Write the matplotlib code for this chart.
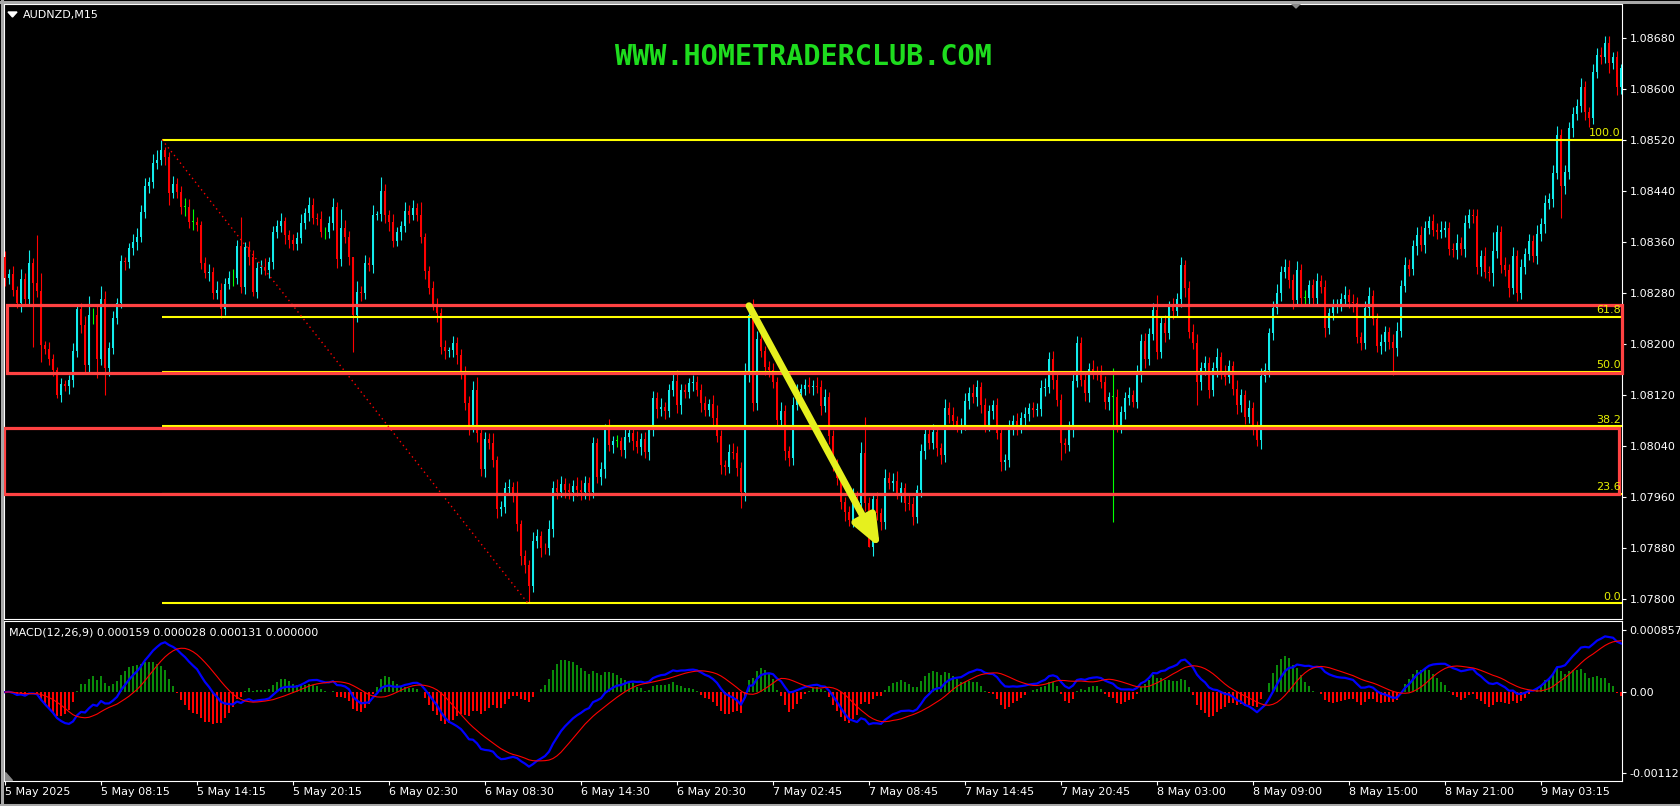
import matplotlib
matplotlib.use('Agg')
import matplotlib.pyplot as plt
from matplotlib.patches import Rectangle, Polygon
import numpy as np
import pandas as pd

W, H = 1680, 806

symbol = 'AUDNZD,M15'
watermark = 'WWW.HOMETRADERCLUB.COM'

# close of every M15 bar, in points above 1.00000 (8245 -> 1.08245)
close_pts = [
    8303, 8310, 8285, 8264, 8302, 8271, 8327, 8296, 8283, 8199, 8192, 8177, 8159, 8120, 8137, 8134, 8143, 8189, 8255, 8230,
    8167, 8245, 8245, 8177, 8271, 8162, 8194, 8241, 8264, 8330, 8328, 8350, 8360, 8368, 8407, 8448, 8454, 8484, 8488, 8504,
    8493, 8437, 8451, 8438, 8415, 8415, 8391, 8391, 8386, 8327, 8311, 8313, 8280, 8285, 8255, 8294, 8303, 8303, 8353, 8289,
    8352, 8336, 8281, 8319, 8320, 8316, 8328, 8375, 8385, 8393, 8371, 8363, 8357, 8366, 8390, 8405, 8418, 8397, 8396, 8375,
    8375, 8390, 8415, 8333, 8382, 8368, 8336, 8245, 8281, 8280, 8327, 8324, 8402, 8403, 8440, 8402, 8391, 8362, 8375, 8385,
    8408, 8402, 8413, 8402, 8368, 8314, 8288, 8263, 8249, 8195, 8189, 8190, 8202, 8183, 8158, 8107, 8072, 8128, 8061, 8004,
    8051, 8045, 8018, 7942, 7945, 7975, 7976, 7965, 7918, 7868, 7854, 7821, 7892, 7899, 7881, 7880, 7910, 7975, 7968, 7981,
    7971, 7968, 7978, 7971, 7968, 7982, 7968, 8045, 7992, 8004, 8065, 8042, 8048, 8048, 8034, 8055, 8061, 8048, 8039, 8051,
    8031, 8065, 8116, 8098, 8101, 8095, 8128, 8142, 8104, 8128, 8125, 8139, 8140, 8128, 8107, 8097, 8106, 8084, 8056, 8010,
    8007, 8031, 8030, 8006, 7968, 8151, 8245, 8107, 8208, 8189, 8164, 8159, 8140, 8081, 8095, 8032, 8021, 8105, 8123, 8130,
    8136, 8133, 8135, 8133, 8103, 8117, 8056, 8010, 7990, 7953, 7937, 7925, 7960, 7951, 8029, 7951, 7882, 7957, 7935, 7921,
    7990, 7982, 7986, 7967, 7975, 7951, 7950, 7929, 7971, 8032, 8059, 8045, 8063, 8037, 8026, 8100, 8089, 8080, 8073, 8074,
    8111, 8124, 8117, 8133, 8104, 8073, 8095, 8104, 8061, 8015, 8018, 8067, 8080, 8070, 8084, 8090, 8100, 8097, 8098, 8131,
    8133, 8177, 8144, 8112, 8045, 8042, 8067, 8142, 8202, 8144, 8123, 8161, 8156, 8155, 8140, 8109, 8117, 8117, 8072, 8093,
    8116, 8120, 8110, 8153, 8205, 8177, 8216, 8253, 8188, 8233, 8217, 8258, 8252, 8270, 8324, 8288, 8219, 8202, 8140, 8162,
    8170, 8128, 8162, 8180, 8155, 8148, 8165, 8130, 8105, 8120, 8085, 8100, 8070, 8050, 8150, 8160, 8217, 8256, 8280, 8313,
    8321, 8300, 8269, 8316, 8272, 8272, 8292, 8272, 8299, 8290, 8225, 8249, 8258, 8261, 8271, 8277, 8266, 8264, 8211, 8202,
    8256, 8275, 8239, 8197, 8203, 8219, 8203, 8194, 8221, 8291, 8324, 8318, 8353, 8371, 8355, 8382, 8392, 8379, 8376, 8379,
    8381, 8349, 8347, 8358, 8349, 8390, 8402, 8400, 8321, 8338, 8313, 8311, 8345, 8375, 8324, 8316, 8288, 8338, 8280, 8321,
    8341, 8361, 8338, 8372, 8388, 8421, 8427, 8468, 8527, 8447, 8469, 8538, 8560, 8573, 8602, 8563, 8554, 8626, 8653, 8650,
    8672, 8640, 8650, 8602, 8632,
]
first_open_pts = 8336

# wick length above / below the body, in points
upper_wick = [
    10, 8, 12, 6, 15, 9, 20, 7, 75, 28, 6, 12, 8, 5, 10, 7, 9, 12, 8, 10,
    14, 30, 12, 15, 20, 12, 9, 11, 8, 10, 6, 9, 12, 14, 10, 12, 8, 14, 16, 16,
    5, 8, 12, 9, 10, 14, 12, 20, 8, 6, 10, 12, 8, 14, 10, 9, 12, 15, 10, 46,
    8, 10, 12, 9, 11, 14, 8, 10, 9, 12, 6, 8, 10, 9, 14, 8, 12, 10, 8, 12,
    9, 10, 14, 8, 30, 12, 9, 0, 18, 10, 12, 9, 15, 6, 22, 10, 8, 12, 9, 8,
    14, 10, 12, 8, 20, 6, 8, 10, 9, 8, 12, 6, 10, 9, 10, 8, 12, 14, 20, 8,
    12, 10, 15, 6, 10, 9, 12, 8, 20, 6, 10, 8, 14, 12, 9, 8, 15, 10, 14, 12,
    10, 12, 9, 14, 16, 12, 10, 9, 8, 12, 10, 18, 8, 10, 6, 14, 9, 12, 16, 10,
    12, 8, 10, 9, 14, 8, 10, 12, 18, 9, 10, 8, 12, 10, 9, 12, 8, 14, 20, 10,
    8, 12, 14, 10, 9, 20, 15, 25, 12, 10, 8, 9, 12, 8, 14, 10, 9, 12, 14, 8,
    10, 12, 9, 14, 10, 12, 8, 9, 10, 12, 8, 9, 14, 10, 18, 57, 10, 8, 12, 9,
    14, 10, 12, 16, 9, 8, 12, 10, 9, 12, 14, 10, 12, 9, 8, 14, 10, 12, 8, 10,
    12, 9, 14, 10, 8, 12, 10, 9, 12, 8, 10, 14, 9, 12, 10, 12, 8, 10, 9, 12,
    14, 10, 12, 9, 10, 8, 12, 14, 10, 9, 12, 10, 14, 9, 12, 10, 8, 45, 12, 10,
    9, 12, 8, 14, 10, 12, 9, 12, 24, 10, 12, 9, 14, 10, 12, 8, 10, 12, 14, 10,
    12, 9, 10, 14, 8, 12, 10, 9, 14, 10, 8, 12, 10, 9, 12, 10, 8, 12, 14, 10,
    12, 10, 9, 14, 10, 12, 8, 10, 12, 9, 10, 8, 12, 10, 9, 14, 10, 12, 10, 8,
    12, 14, 10, 9, 12, 10, 8, 12, 14, 10, 12, 9, 10, 12, 14, 10, 9, 12, 10, 14,
    12, 10, 9, 14, 10, 12, 10, 9, 12, 10, 14, 9, 30, 12, 10, 12, 9, 14, 10, 12,
    10, 12, 9, 14, 10, 12, 9, 12, 14, 10, 12, 9, 12, 10, 14, 10, 9, 12, 10, 12,
    10, 10, 8, 9, 6,
]
lower_wick = [
    12, 9, 10, 8, 14, 10, 12, 100, 10, 27, 8, 10, 9, 5, 10, 8, 12, 10, 9, 12,
    10, 12, 14, 30, 10, 42, 12, 9, 10, 8, 12, 9, 10, 12, 8, 10, 12, 9, 10, 8,
    12, 20, 9, 10, 12, 14, 10, 12, 9, 10, 8, 12, 10, 9, 14, 10, 8, 12, 9, 9,
    10, 12, 6, 9, 10, 8, 12, 10, 9, 10, 14, 12, 10, 9, 8, 10, 12, 9, 10, 8,
    10, 9, 12, 14, 10, 9, 12, 57, 10, 12, 9, 10, 12, 8, 10, 12, 14, 10, 9, 12,
    10, 12, 8, 10, 9, 12, 10, 9, 14, 10, 12, 9, 10, 14, 12, 10, 14, 9, 15, 10,
    12, 9, 10, 14, 12, 10, 8, 12, 10, 14, 12, 27, 10, 12, 14, 9, 10, 12, 10, 8,
    12, 10, 14, 9, 12, 10, 12, 9, 10, 12, 14, 10, 12, 9, 10, 12, 9, 14, 10, 12,
    10, 12, 9, 14, 10, 12, 9, 10, 12, 14, 10, 9, 12, 10, 14, 9, 10, 12, 10, 14,
    12, 9, 10, 12, 25, 14, 10, 12, 10, 9, 12, 10, 9, 12, 10, 14, 12, 10, 9, 12,
    10, 9, 12, 10, 14, 10, 12, 9, 10, 12, 14, 10, 12, 9, 10, 12, 0, 14, 10, 12,
    10, 9, 12, 10, 14, 12, 10, 12, 9, 10, 12, 10, 9, 12, 14, 10, 12, 9, 10, 12,
    9, 12, 10, 14, 12, 10, 9, 12, 10, 14, 12, 10, 9, 12, 10, 14, 10, 12, 9, 10,
    12, 10, 14, 9, 27, 12, 10, 12, 9, 10, 12, 14, 10, 12, 9, 10, 12, 196, 10, 12,
    10, 12, 9, 10, 12, 14, 10, 9, 12, 10, 14, 9, 12, 10, 12, 14, 10, 9, 35, 12,
    10, 12, 9, 14, 10, 12, 9, 10, 14, 12, 10, 9, 12, 10, 14, 9, 12, 10, 9, 12,
    10, 12, 14, 9, 10, 12, 10, 12, 9, 10, 14, 10, 12, 9, 10, 12, 9, 14, 10, 12,
    10, 12, 9, 10, 12, 14, 10, 42, 12, 10, 9, 12, 10, 14, 10, 12, 9, 10, 12, 10,
    12, 9, 10, 14, 10, 12, 9, 10, 12, 14, 10, 12, 20, 10, 12, 9, 14, 10, 12, 10,
    12, 10, 9, 12, 10, 14, 9, 12, 10, 49, 12, 10, 14, 9, 10, 12, 14, 10, 9, 12,
    10, 16, 9, 12, 10,
]

date_labels = ['5 May 2025', '5 May 08:15', '5 May 14:15', '5 May 20:15', '6 May 02:30',
               '6 May 08:30', '6 May 14:30', '6 May 20:30', '7 May 02:45', '7 May 08:45',
               '7 May 14:45', '7 May 20:45', '8 May 03:00', '8 May 09:00', '8 May 15:00',
               '8 May 21:00', '9 May 03:15']
bars_per_label = 24

price_ticks = [1.08680, 1.08600, 1.08520, 1.08440, 1.08360, 1.08280,
               1.08200, 1.08120, 1.08040, 1.07960, 1.07880, 1.07800]
macd_ticks = [0.000857, 0.0, -0.001121]
macd_tick_labels = ['0.000857', '0.00', '-0.001121']
macd_title = 'MACD(12,26,9) 0.000159 0.000028 0.000131 0.000000'

# fibonacci drawn from the high of one bar to the low of another
fib_high_bar, fib_low_bar = 39, 131
fib_levels = [0.0, 23.6, 38.2, 50.0, 61.8, 100.0]

# supply / demand boxes: bar from, bar to, low pts, high pts
zone_bars = [(0.5, 404.25), (-0.25, 403.5)]
zone_pts = [(8155, 8261), (7965, 8069)]
# hand drawn arrow: (bar, pts) start and end
arrow_start = (186.0, 8260)
arrow_end = (218.75, 7881)

CYAN = '#12ecec'
RED = '#ff0000'
LIME = '#00ff00'
YELLOW = '#ffff00'
ZONE = '#ff4242'

assert len(close_pts) == len(upper_wick) == len(lower_wick)

cp = np.array(close_pts)
op = np.r_[first_open_pts, cp[:-1]]
c = 1 + cp / 1e5
o = 1 + op / 1e5
hi = np.maximum(o, c) + np.array(upper_wick) / 1e5
lo = np.minimum(o, c) - np.array(lower_wick) / 1e5
n = len(c)
x = np.arange(n)

# macd of the closes (histogram drawn enlarged like the terminal indicator)
s = pd.Series(c)
macd = s.ewm(span=12, adjust=False).mean() - s.ewm(span=26, adjust=False).mean()
signal = macd.rolling(9, min_periods=1).mean()
hist = 1.5 * (macd - signal)


def fx(px):
    return px / W


def fy(py):
    return 1 - py / H


def price_at(py):
    # pixel row -> price, from the reference price scale
    return 1.078 + (599.5 - py) / 63860.0


fig = plt.figure(figsize=(W / 100, H / 100), dpi=100, facecolor='black')
ax = fig.add_axes([fx(3.5), fy(618.5), fx(1622) - fx(3.5), fy(4) - fy(618.5)], facecolor='black')
ax2 = fig.add_axes([fx(3.5), fy(780.5), fx(1622) - fx(3.5), fy(621) - fy(780.5)], facecolor='black')

xlim = (-0.375, 404.25)
for a in (ax, ax2):
    a.set_xlim(*xlim)
    for sp in a.spines.values():
        sp.set_color('white')
        sp.set_linewidth(0.8)
    a.yaxis.tick_right()
    a.tick_params(axis='y', colors='white', labelsize=8, length=3, width=0.8, pad=2.5)

ax.set_ylim(price_at(618.5), price_at(4))

# candles
colors = np.where(cp > op, CYAN, np.where(cp < op, RED, LIME))
ax.vlines(x, lo, hi, colors=colors, lw=0.8, zorder=2)
body_h = np.maximum(np.abs(c - o), 1.0e-5)
ax.bar(x, body_h, bottom=np.minimum(o, c), width=0.74, color=colors, linewidth=0, zorder=3)

# fibonacci
fib_hi = hi[fib_high_bar]
fib_lo = lo[fib_low_bar]
fib_x0 = fib_high_bar + 0.25
for lvl in fib_levels:
    p = fib_lo + (fib_hi - fib_lo) * lvl / 100
    ax.hlines(p, fib_x0, xlim[1], colors=YELLOW, lw=1.5, zorder=4)
    ax.text(403.9, p + 0.000025, f'{lvl:.1f}', color='#e6f000', fontsize=8,
            ha='right', va='bottom', zorder=7)
ax.plot([fib_x0, fib_low_bar - 0.25], [fib_hi, fib_lo], color=RED, lw=1,
        ls=(0, (1, 2.5)), zorder=4)

# boxes
for (b0, b1), (p0, p1) in zip(zone_bars, zone_pts):
    ax.add_patch(Rectangle((b0, 1 + p0 / 1e5), b1 - b0, (p1 - p0) / 1e5, fill=False,
                           edgecolor=ZONE, lw=2.3, zorder=5, clip_on=False))

# arrow
ax.annotate('', xy=(arrow_end[0], 1 + arrow_end[1] / 1e5),
            xytext=(arrow_start[0], 1 + arrow_start[1] / 1e5),
            arrowprops=dict(arrowstyle='-|>,head_length=1.0,head_width=0.4',
                            mutation_scale=18, lw=5, color='#e6f01e', shrinkA=0, shrinkB=0),
            zorder=8)

ax.set_xticks([])
ax.set_yticks(price_ticks)
ax.set_yticklabels([f'{p:.5f}' for p in price_ticks])

# macd panel
ax2.set_ylim(-0.001218, 0.000981)
hcol = np.where(hist.values >= 0, '#0a8a0a', RED)
ax2.bar(x, hist.values, width=0.74, color=hcol, linewidth=0, zorder=2)
ax2.plot(x, macd.values, color='#0000ff', lw=1.6, zorder=3)
ax2.plot(x, signal.values, color=RED, lw=0.8, zorder=4)
ax2.set_yticks(macd_ticks)
ax2.set_yticklabels(macd_tick_labels)
ax2.set_xticks(np.arange(0, n, bars_per_label))
ax2.set_xticklabels(date_labels)
ax2.tick_params(axis='x', colors='white', labelsize=8, length=3, width=0.8, pad=2)
for lab in ax2.get_xticklabels():
    lab.set_ha('left')

# texts
fig.text(fx(23), fy(15), symbol, color='white', fontsize=8, va='center')
fig.patches.append(Polygon([(fx(8), fy(12)), (fx(17), fy(12)), (fx(12.5), fy(17))],
                           closed=True, transform=fig.transFigure, color='white'))
fig.text(fx(9), fy(632.5), macd_title, color='white', fontsize=8, va='center')
fig.text(fx(803.5), fy(57), watermark, color='#1edc1e', fontsize=20.5,
         family='DejaVu Sans Mono', weight='bold', ha='center', va='center')

# window decorations
fig.patches.append(Polygon([(fx(1291), fy(3)), (fx(1301), fy(3)), (fx(1296), fy(8))],
                           closed=True, transform=fig.transFigure, color='#8a8a8a'))
fig.patches.append(Polygon([(fx(5), fy(772)), (fx(5), fy(780)), (fx(12), fy(780))],
                           closed=True, transform=fig.transFigure, color='#8a8a8a'))
for seg in [((0, 1680), (1.5, 1.5)), ((1.5, 1.5), (0, 806)), ((0, 1680), (804.5, 804.5))]:
    fig.add_artist(plt.Line2D([fx(seg[0][0]), fx(seg[0][1])], [fy(seg[1][0]), fy(seg[1][1])],
                              transform=fig.transFigure, color='#a8a8a8', lw=2.2))

fig.savefig('out.png', dpi=100, facecolor='black')
